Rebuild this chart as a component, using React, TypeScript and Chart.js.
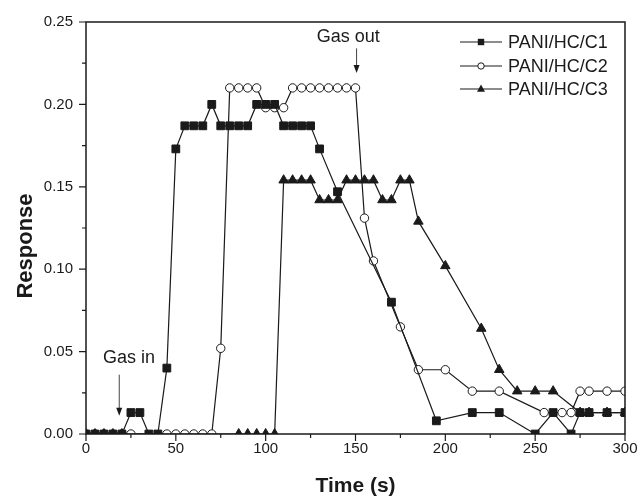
import React, { useEffect, useRef } from 'react';
import { Chart, registerables } from 'chart.js';

Chart.register(...registerables);

// ---- data ----
const c1Time = [0, 5, 10, 15, 20, 25, 30, 35, 40, 45, 50, 55, 60, 65, 70, 75, 80, 85, 90, 95, 100, 105, 110, 115, 120, 125, 130, 140, 170, 195, 215, 230, 250, 260, 270, 275, 280, 290, 300];
const c1Resp = [0, 0, 0, 0, 0, 0.013, 0.013, 0, 0, 0.040, 0.173, 0.187, 0.187, 0.187, 0.200, 0.187, 0.187, 0.187, 0.187, 0.200, 0.200, 0.200, 0.187, 0.187, 0.187, 0.187, 0.173, 0.147, 0.080, 0.008, 0.013, 0.013, 0, 0.013, 0, 0.013, 0.013, 0.013, 0.013];

const c2Time = [0, 5, 10, 15, 20, 25, 45, 50, 55, 60, 65, 70, 75, 80, 85, 90, 95, 100, 105, 110, 115, 120, 125, 130, 135, 140, 145, 150, 155, 160, 175, 185, 200, 215, 230, 255, 265, 270, 275, 280, 290, 300];
const c2Resp = [0, 0, 0, 0, 0, 0, 0, 0, 0, 0, 0, 0, 0.052, 0.210, 0.210, 0.210, 0.210, 0.198, 0.198, 0.198, 0.210, 0.210, 0.210, 0.210, 0.210, 0.210, 0.210, 0.210, 0.131, 0.105, 0.065, 0.039, 0.039, 0.026, 0.026, 0.013, 0.013, 0.013, 0.026, 0.026, 0.026, 0.026];

const c3Time = [0, 5, 10, 15, 20, 85, 90, 95, 100, 105, 110, 115, 120, 125, 130, 135, 140, 145, 150, 155, 160, 165, 170, 175, 180, 185, 200, 220, 230, 240, 250, 260, 275, 280, 290, 300];
const c3Resp = [0, 0, 0, 0, 0, 0, 0, 0, 0, 0, 0.154, 0.154, 0.154, 0.154, 0.142, 0.142, 0.142, 0.154, 0.154, 0.154, 0.154, 0.142, 0.142, 0.154, 0.154, 0.129, 0.102, 0.064, 0.039, 0.026, 0.026, 0.026, 0.013, 0.013, 0.013, 0.013];

const seriesNames = ['PANI/HC/C1', 'PANI/HC/C2', 'PANI/HC/C3'];
const xRange = [0, 300];
const yRange = [0, 0.25];
const xMajorStep = 50;
const yMajorStep = 0.05;
const xTitle = 'Time (s)';
const yTitle = 'Response';
const gasIn = { label: 'Gas in', tx: 24, ty: 0.046, ax: 18.5, ay0: 0.036, ay1: 0.011 };
const gasOut = { label: 'Gas out', tx: 146, ty: 0.241, ax: 150.6, ay0: 0.234, ay1: 0.219 };

const FONT = '"Liberation Sans", Arial, Helvetica, sans-serif';
const INK = '#1a1a1a';

const toPts = (xs: number[], ys: number[]) => xs.map((x, i) => ({ x, y: ys[i] }));

function drawMarker(ctx: CanvasRenderingContext2D, style: string, x: number, y: number, s: number) {
  ctx.beginPath();
  if (style === 'rect') {
    ctx.rect(x - s, y - s, 2 * s, 2 * s);
    ctx.fillStyle = INK;
    ctx.fill();
  } else if (style === 'circle') {
    ctx.arc(x, y, s, 0, Math.PI * 2);
    ctx.fillStyle = '#fff';
    ctx.fill();
    ctx.lineWidth = 1;
    ctx.strokeStyle = INK;
    ctx.stroke();
  } else {
    ctx.moveTo(x, y - s * 1.1);
    ctx.lineTo(x + s, y + s * 0.7);
    ctx.lineTo(x - s, y + s * 0.7);
    ctx.closePath();
    ctx.fillStyle = INK;
    ctx.fill();
  }
}

const overlay = {
  id: 'overlay',
  afterDatasetsDraw(chart: any) {
    const { ctx, chartArea: a, scales } = chart;
    const xs = scales.x;
    const ys = scales.y;
    ctx.save();
    ctx.strokeStyle = INK;
    ctx.lineWidth = 1.5;
    ctx.strokeRect(a.left, a.top, a.right - a.left, a.bottom - a.top);
    ctx.lineWidth = 1.2;
    ctx.beginPath();
    const nx = Math.round((xRange[1] - xRange[0]) / (xMajorStep / 2));
    for (let i = 0; i <= nx; i++) {
      const v = xRange[0] + (i * xMajorStep) / 2;
      const px = xs.getPixelForValue(v);
      ctx.moveTo(px, a.bottom);
      ctx.lineTo(px, a.bottom + (i % 2 === 0 ? 7 : 4));
    }
    const ny = Math.round((yRange[1] - yRange[0]) / (yMajorStep / 2));
    for (let i = 0; i <= ny; i++) {
      const v = yRange[0] + (i * yMajorStep) / 2;
      const py = ys.getPixelForValue(v);
      ctx.moveTo(a.left, py);
      ctx.lineTo(a.left - (i % 2 === 0 ? 7 : 4), py);
    }
    ctx.stroke();

    ctx.fillStyle = INK;
    ctx.font = `bold 21px ${FONT}`;
    ctx.textAlign = 'center';
    ctx.textBaseline = 'middle';
    ctx.fillText(xTitle, (a.left + a.right) / 2, 486);
    ctx.save();
    ctx.translate(26, (a.top + a.bottom) / 2 + 18);
    ctx.rotate(-Math.PI / 2);
    ctx.font = `bold 22px ${FONT}`;
    ctx.fillText(yTitle, 0, 0);
    ctx.restore();

    ctx.font = `18px ${FONT}`;
    [gasIn, gasOut].forEach((g) => {
      ctx.fillStyle = INK;
      ctx.textAlign = 'center';
      ctx.textBaseline = 'middle';
      ctx.fillText(g.label, xs.getPixelForValue(g.tx), ys.getPixelForValue(g.ty));
      const ax = xs.getPixelForValue(g.ax);
      const y0 = ys.getPixelForValue(g.ay0);
      const y1 = ys.getPixelForValue(g.ay1);
      ctx.strokeStyle = '#444';
      ctx.lineWidth = 1;
      ctx.beginPath();
      ctx.moveTo(ax, y0);
      ctx.lineTo(ax, y1 - 6);
      ctx.stroke();
      ctx.beginPath();
      ctx.moveTo(ax - 3, y1 - 8);
      ctx.lineTo(ax + 3, y1 - 8);
      ctx.lineTo(ax, y1);
      ctx.closePath();
      ctx.fillStyle = INK;
      ctx.fill();
    });

    const styles = ['rect', 'circle', 'triangle'];
    const sizes = [3.2, 3.2, 4];
    const rowY = [42, 66, 89];
    const lx0 = 460;
    const lx1 = 502;
    seriesNames.forEach((name, i) => {
      const y = rowY[i];
      ctx.strokeStyle = INK;
      ctx.lineWidth = 1.2;
      ctx.beginPath();
      ctx.moveTo(lx0, y);
      ctx.lineTo(lx1, y);
      ctx.stroke();
      drawMarker(ctx, styles[i], (lx0 + lx1) / 2, y, sizes[i]);
      ctx.fillStyle = INK;
      ctx.font = `18px ${FONT}`;
      ctx.textAlign = 'left';
      ctx.textBaseline = 'middle';
      ctx.fillText(name, 508, y + 1);
    });
    ctx.restore();
  },
};

export default function App() {
  const ref = useRef<HTMLCanvasElement>(null);
  useEffect(() => {
    document.body.style.margin = '0';
    const canvas = ref.current;
    if (!canvas) return;
    const common = {
      showLine: true,
      borderColor: INK,
      borderWidth: 1.2,
      tension: 0,
      pointBorderColor: INK,
      pointBorderWidth: 1,
      pointHoverRadius: 5,
    };
    const chart = new Chart(canvas, {
      type: 'line',
      data: {
        datasets: [
          {
            ...common,
            label: seriesNames[0],
            data: toPts(c1Time, c1Resp),
            pointStyle: 'rect',
            pointRadius: 5.5,
            pointBackgroundColor: INK,
            order: 0,
          },
          {
            ...common,
            label: seriesNames[1],
            data: toPts(c2Time, c2Resp),
            pointStyle: 'circle',
            pointRadius: 4.2,
            pointBackgroundColor: '#ffffff',
            order: 2,
          },
          {
            ...common,
            label: seriesNames[2],
            data: toPts(c3Time, c3Resp),
            pointStyle: 'triangle',
            pointRadius: 5.5,
            pointBackgroundColor: INK,
            order: 1,
          },
        ],
      },
      options: {
        animation: false,
        responsive: false,
        devicePixelRatio: 1,
        events: [],
        layout: { padding: { top: 22, right: 12, left: 0, bottom: 0 } },
        plugins: { legend: { display: false }, tooltip: { enabled: false } },
        scales: {
          x: {
            type: 'linear',
            min: xRange[0],
            max: xRange[1],
            afterFit: (s: any) => { s.height = 64; s.paddingLeft = 0; s.paddingRight = 0; },
            grid: { display: false, drawTicks: false, tickLength: 0 },
            border: { display: false },
            ticks: {
              stepSize: xMajorStep,
              padding: 6,
              color: INK,
              font: { family: FONT, size: 15 },
              maxRotation: 0,
              autoSkip: false,
            },
          },
          y: {
            type: 'linear',
            min: yRange[0],
            max: yRange[1],
            afterFit: (s: any) => { s.width = 86; s.paddingTop = 0; s.paddingBottom = 0; },
            grid: { display: false, drawTicks: false, tickLength: 0 },
            border: { display: false },
            ticks: {
              stepSize: yMajorStep,
              padding: 13,
              color: INK,
              font: { family: FONT, size: 15 },
              autoSkip: false,
              callback: (v: any) => Number(v).toFixed(2),
            },
          },
        },
      },
      plugins: [overlay],
    } as any);
    return () => chart.destroy();
  }, []);
  return (
    <div style={{ position: 'absolute', left: 0, top: 0, width: 637, height: 498, background: '#fff' }}>
      <canvas ref={ref} width={637} height={498} style={{ display: 'block', width: 637, height: 498 }} />
    </div>
  );
}
